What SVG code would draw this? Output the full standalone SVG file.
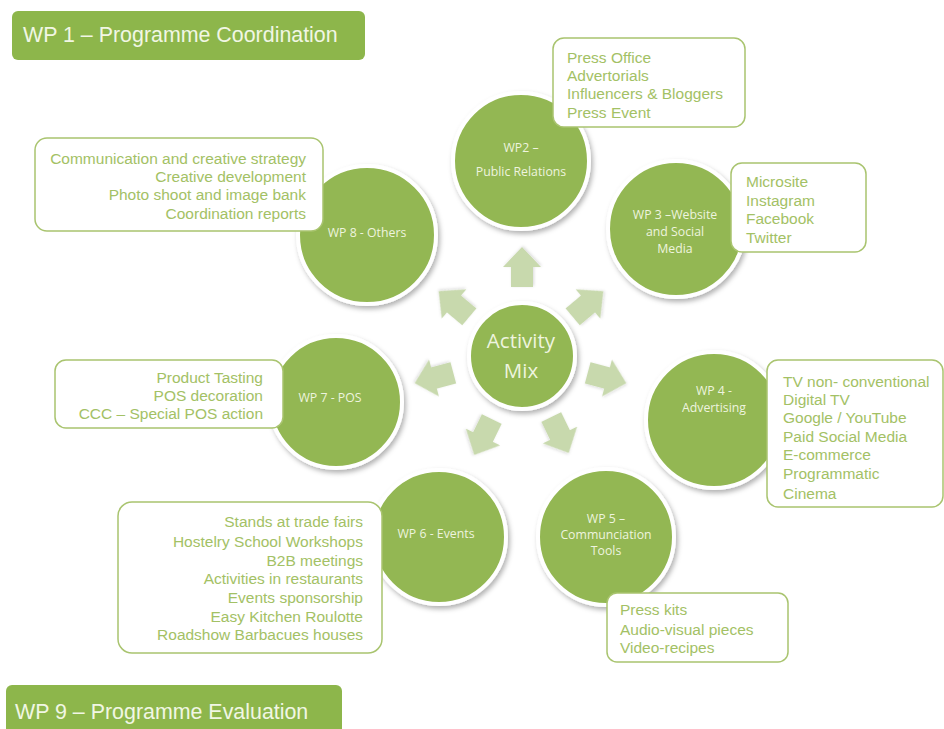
<svg xmlns="http://www.w3.org/2000/svg" width="944" height="729" viewBox="0 0 944 729">
<defs>
<filter id="sh" x="-20%" y="-20%" width="150%" height="150%">
<feDropShadow dx="2" dy="3" stdDeviation="2.5" flood-color="#000" flood-opacity="0.3"/>
</filter>
<filter id="ash" x="-30%" y="-30%" width="160%" height="160%">
<feDropShadow dx="1" dy="1" stdDeviation="1.5" flood-color="#000" flood-opacity="0.15"/>
</filter>
<path id="arr" d="M-20,-11 L0,-11 L0,-19 L20,0 L0,19 L0,11 L-20,11 Z"/>
</defs>
<style>
.hdr{fill:#8db64b}
.hdrt{font-family:"Liberation Sans",Arial,sans-serif;font-size:21.4px;fill:#f1f6e4}
.c{fill:#93b752;stroke:#ffffff;stroke-width:4;filter:url(#sh)}
.ct{font-family:"Open Sans","Noto Sans",sans-serif;font-size:12.3px;fill:#eef4df;text-anchor:middle}
.bx{fill:#ffffff;stroke:#a9c46f;stroke-width:1.5}
.bt{font-family:"Liberation Sans",Arial,sans-serif;font-size:15.5px;fill:#a3c165}
.r{text-anchor:end}
.a{fill:#c8d9ad;filter:url(#ash)}
.mt{font-family:"Open Sans","Noto Sans",sans-serif;font-size:20.5px;fill:#eef4df;text-anchor:middle}
</style>
<rect width="944" height="729" fill="#ffffff"/>

<g id="wp1">
<rect class="hdr" x="12" y="11" width="353" height="49" rx="6"/>
<text class="hdrt" x="23" y="42">WP 1 – Programme Coordination</text>
</g>
<g id="wp9">
<rect class="hdr" x="6" y="685" width="336" height="50" rx="6"/>
<text class="hdrt" x="15" y="719">WP 9 – Programme Evaluation</text>
</g>

<g id="connectors">
<use href="#arr" class="a" transform="translate(522,267) rotate(-90)"/>
<use href="#arr" class="a" transform="translate(588,304) rotate(-40)"/>
<use href="#arr" class="a" transform="translate(607,378) rotate(15)"/>
<use href="#arr" class="a" transform="translate(560,435) rotate(64)"/>
<use href="#arr" class="a" transform="translate(483,437) rotate(116)"/>
<use href="#arr" class="a" transform="translate(434,378) rotate(165)"/>
<use href="#arr" class="a" transform="translate(454,304) rotate(-140)"/>
</g>

<g id="activity-mix">
<circle class="c" cx="522" cy="356" r="53"/>
<text class="mt" x="521" y="348">Activity</text>
<text class="mt" x="521" y="378">Mix</text>
</g>

<g id="wp2">
<circle class="c" cx="521" cy="161" r="68"/>
<text class="ct" x="521" y="152">WP2 –</text>
<text class="ct" x="521" y="176">Public Relations</text>
<rect class="bx" x="553" y="38" width="192" height="89" rx="11"/>
<text class="bt" x="567" y="63">Press Office</text>
<text class="bt" x="567" y="81">Advertorials</text>
<text class="bt" x="567" y="99">Influencers &amp; Bloggers</text>
<text class="bt" x="567" y="118">Press Event</text>
</g>

<g id="wp3">
<circle class="c" cx="676" cy="229" r="68"/>
<text class="ct" x="675" y="219">WP 3 –Website</text>
<text class="ct" x="675" y="236">and Social</text>
<text class="ct" x="675" y="253">Media</text>
<rect class="bx" x="731" y="163" width="135" height="89" rx="11"/>
<text class="bt" x="746" y="187">Microsite</text>
<text class="bt" x="746" y="206">Instagram</text>
<text class="bt" x="746" y="224">Facebook</text>
<text class="bt" x="746" y="243">Twitter</text>
</g>

<g id="wp4">
<circle class="c" cx="714" cy="420" r="68"/>
<text class="ct" x="714" y="395">WP 4 -</text>
<text class="ct" x="714" y="412">Advertising</text>
<rect class="bx" x="767" y="360" width="176" height="147" rx="11"/>
<text class="bt" x="783" y="387">TV non- conventional</text>
<text class="bt" x="783" y="405">Digital TV</text>
<text class="bt" x="783" y="423">Google / YouTube</text>
<text class="bt" x="783" y="442">Paid Social Media</text>
<text class="bt" x="783" y="460">E-commerce</text>
<text class="bt" x="783" y="479">Programmatic</text>
<text class="bt" x="783" y="499">Cinema</text>
</g>

<g id="wp5">
<circle class="c" cx="606" cy="537" r="68"/>
<text class="ct" x="606" y="523">WP 5 –</text>
<text class="ct" x="606" y="539">Communciation</text>
<text class="ct" x="606" y="555">Tools</text>
<rect class="bx" x="607" y="593" width="181" height="69" rx="10"/>
<text class="bt" x="620" y="615">Press kits</text>
<text class="bt" x="620" y="635">Audio-visual pieces</text>
<text class="bt" x="620" y="653">Video-recipes</text>
</g>

<g id="wp6">
<circle class="c" cx="439" cy="537" r="67"/>
<text class="ct" x="436" y="538">WP 6 - Events</text>
<rect class="bx" x="118" y="502" width="264" height="151" rx="14"/>
<text class="bt r" x="363" y="527">Stands at trade fairs</text>
<text class="bt r" x="363" y="547">Hostelry School Workshops</text>
<text class="bt r" x="363" y="566">B2B meetings</text>
<text class="bt r" x="363" y="584">Activities in restaurants</text>
<text class="bt r" x="363" y="603">Events sponsorship</text>
<text class="bt r" x="363" y="622">Easy Kitchen Roulotte</text>
<text class="bt r" x="363" y="640">Roadshow Barbacues houses</text>
</g>

<g id="wp7">
<circle class="c" cx="336" cy="402" r="66"/>
<text class="ct" x="330" y="402">WP 7 - POS</text>
<rect class="bx" x="55" y="360" width="228" height="68" rx="11"/>
<text class="bt r" x="263" y="383">Product Tasting</text>
<text class="bt r" x="263" y="401">POS decoration</text>
<text class="bt r" x="263" y="419">CCC – Special POS action</text>
</g>

<g id="wp8">
<circle class="c" cx="367" cy="235" r="69"/>
<text class="ct" x="367" y="237">WP 8 - Others</text>
<rect class="bx" x="35" y="138" width="288" height="93" rx="12"/>
<text class="bt r" x="306" y="164">Communication and creative strategy</text>
<text class="bt r" x="306" y="182">Creative development</text>
<text class="bt r" x="306" y="200">Photo shoot and image bank</text>
<text class="bt r" x="306" y="219">Coordination reports</text>
</g>
</svg>
